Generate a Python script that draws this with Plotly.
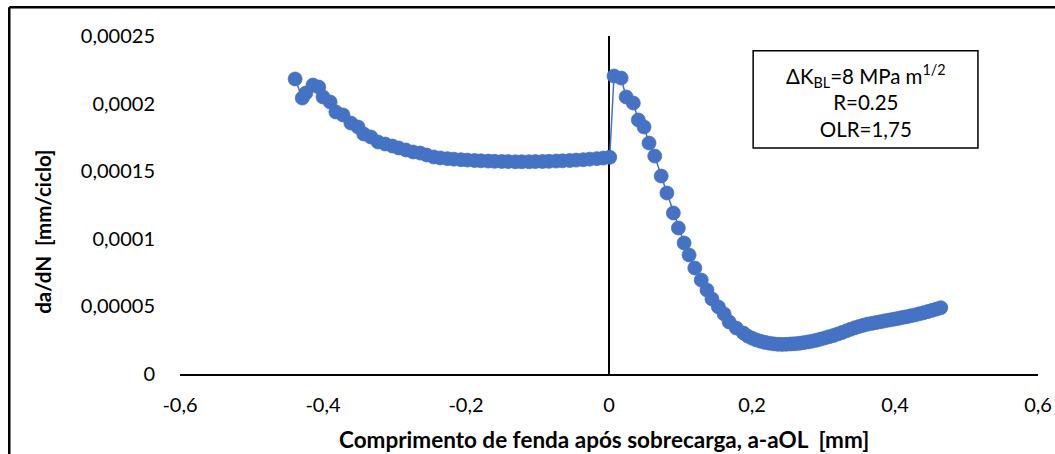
import plotly.graph_objects as go

# Crack growth rate before the overload (a - aOL < 0)
x_before = [-0.439, -0.429, -0.424, -0.414, -0.406, -0.400, -0.390, -0.382, -0.372, -0.361,
            -0.351, -0.343, -0.333, -0.323, -0.313, -0.303, -0.294, -0.284, -0.274, -0.264,
            -0.255, -0.245, -0.236, -0.226, -0.217, -0.207, -0.198, -0.188, -0.179, -0.169,
            -0.160, -0.150, -0.141, -0.131, -0.122, -0.112, -0.103, -0.093, -0.084, -0.074,
            -0.065, -0.055, -0.046, -0.036, -0.027, -0.017, -0.008, 0.001]
y_before = [0.0002182, 0.0002041, 0.0002078, 0.0002137, 0.0002123, 0.0002049, 0.0002012, 0.0001938,
            0.0001916, 0.0001856, 0.0001827, 0.0001775, 0.0001753, 0.0001716, 0.0001701, 0.0001686,
            0.0001672, 0.0001657, 0.0001642, 0.0001634, 0.0001620, 0.0001605, 0.0001598, 0.0001593,
            0.0001589, 0.0001585, 0.0001582, 0.0001579, 0.0001577, 0.0001575, 0.0001573, 0.0001572,
            0.0001571, 0.0001570, 0.0001570, 0.0001570, 0.0001571, 0.0001572, 0.0001573, 0.0001575,
            0.0001577, 0.0001579, 0.0001582, 0.0001585, 0.0001589, 0.0001593, 0.0001597, 0.0001603]

# Crack growth rate after the overload (a - aOL > 0)
x_after = [0.007, 0.017, 0.024, 0.034, 0.041, 0.049, 0.056, 0.064, 0.073, 0.081,
           0.090, 0.097, 0.105, 0.112, 0.120, 0.129, 0.137, 0.144, 0.153, 0.161,
           0.168, 0.178, 0.188, 0.194, 0.200, 0.206, 0.212, 0.218, 0.224, 0.230,
           0.236, 0.242, 0.248, 0.254, 0.260, 0.266, 0.272, 0.278, 0.284, 0.290,
           0.296, 0.302, 0.308, 0.314, 0.320, 0.326, 0.332, 0.338, 0.344, 0.350,
           0.356, 0.362, 0.368, 0.374, 0.380, 0.386, 0.392, 0.398, 0.404, 0.410,
           0.416, 0.422, 0.428, 0.434, 0.440, 0.446, 0.452, 0.458, 0.464]
y_after = [0.0002204, 0.0002189, 0.0002049, 0.0002004, 0.0001879, 0.0001827, 0.0001708, 0.0001612,
           0.0001464, 0.0001339, 0.0001191, 0.0001080, 0.0000969, 0.0000880, 0.0000784, 0.0000695,
           0.0000621, 0.0000555, 0.0000496, 0.0000444, 0.0000385, 0.0000340, 0.0000303, 0.0000280,
           0.0000265, 0.0000252, 0.0000242, 0.0000234, 0.0000228, 0.0000223, 0.0000220, 0.0000219,
           0.0000220, 0.0000222, 0.0000224, 0.0000227, 0.0000232, 0.0000237, 0.0000243, 0.0000250,
           0.0000258, 0.0000267, 0.0000276, 0.0000285, 0.0000296, 0.0000307, 0.0000319, 0.0000331,
           0.0000342, 0.0000352, 0.0000361, 0.0000369, 0.0000375, 0.0000381, 0.0000387, 0.0000393,
           0.0000399, 0.0000405, 0.0000411, 0.0000417, 0.0000423, 0.0000430, 0.0000437, 0.0000445,
           0.0000453, 0.0000462, 0.0000471, 0.0000480, 0.0000490]

x_ticks = [-0.6, -0.4, -0.2, 0, 0.2, 0.4, 0.6]
x_tick_labels = ["-0,6", "-0,4", "-0,2", "0", "0,2", "0,4", "0,6"]
y_ticks = [0, 0.00005, 0.0001, 0.00015, 0.0002, 0.00025]
y_tick_labels = ["0", "0,00005", "0,0001", "0,00015", "0,0002", "0,00025"]

BLUE = "#4472C4"
FONT = "Lato"

fig = go.Figure()
fig.add_trace(go.Scatter(
    x=x_before + x_after,
    y=y_before + y_after,
    mode="lines+markers",
    line=dict(color=BLUE, width=1.5),
    marker=dict(symbol="circle", size=14, color=BLUE, line=dict(color=BLUE, width=0.75)),
    showlegend=False,
))

fig.update_layout(
    width=1055, height=454,
    margin=dict(l=180, r=17, t=36, b=80, autoexpand=False),
    paper_bgcolor="white", plot_bgcolor="white",
    font=dict(family=FONT, size=20, color="black"),
    xaxis=dict(
        range=[-0.6, 0.6], tickvals=x_ticks, ticktext=x_tick_labels,
        automargin=False,
        showgrid=False, showline=True, linecolor="black", linewidth=2,
        zeroline=True, zerolinecolor="black", zerolinewidth=1.5,
        ticks="outside", ticklen=12, tickcolor="rgba(0,0,0,0)",
        tickfont=dict(family=FONT, size=20, color="black"),
    ),
    yaxis=dict(
        range=[0, 0.00025], tickvals=y_ticks, ticktext=y_tick_labels,
        automargin=False,
        showgrid=False, showline=False, zeroline=False,
        ticks="outside", ticklen=20, tickcolor="rgba(0,0,0,0)",
        tickfont=dict(family=FONT, size=20, color="black"),
    ),
    shapes=[
        # outer chart frame (left and top edges)
        dict(type="line", xref="paper", yref="paper", x0=-0.199, x1=-0.199, y0=-0.5, y1=1.085,
             line=dict(color="black", width=2.5)),
        dict(type="line", xref="paper", yref="paper", x0=-0.199, x1=1.1, y0=1.085, y1=1.085,
             line=dict(color="black", width=2.5)),
        # parameter box
        dict(type="rect", xref="paper", yref="paper", x0=0.668, x1=0.930, y0=0.669, y1=0.956,
             line=dict(color="black", width=1.5), fillcolor="white"),
    ],
    annotations=[
        dict(text="ΔK<sub>BL</sub>=8 MPa m<sup>1/2</sup><br>R=0.25<br>OLR=1,75",
             xref="paper", yref="paper", x=0.799, y=0.808, xanchor="center", yanchor="middle",
             showarrow=False, align="center", font=dict(family=FONT, size=20.5, color="black")),
        dict(text="<b>Comprimento de fenda após sobrecarga, a-aOL \u00a0[mm]</b>",
             xref="paper", yref="paper", x=0.494, y=-0.195, xanchor="center", yanchor="middle",
             showarrow=False, font=dict(family=FONT, size=22.5, color="black")),
        dict(text="<b>da/dN \u00a0[mm/ciclo]</b>", textangle=-90,
             xref="paper", yref="paper", x=-0.160, y=0.420, xanchor="center", yanchor="middle",
             showarrow=False, font=dict(family=FONT, size=20.5, color="black")),
    ],
)

fig.write_html("out.html")
